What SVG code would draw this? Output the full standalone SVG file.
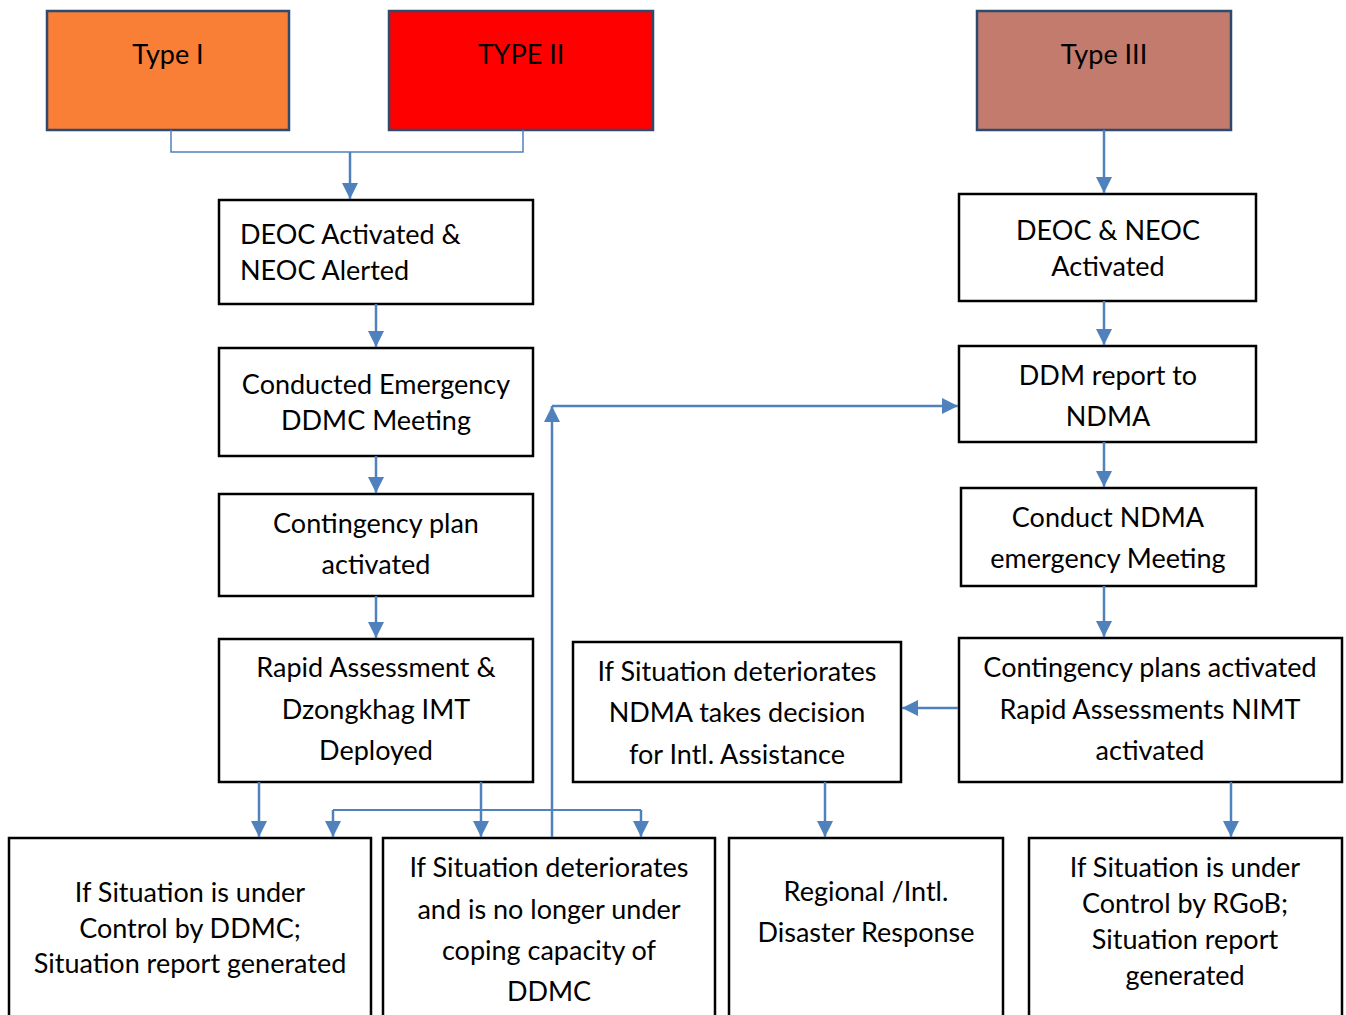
<svg xmlns="http://www.w3.org/2000/svg" width="1346" height="1015" viewBox="0 0 1346 1015">
<style>
.box{fill:#fff;stroke:#000;stroke-width:2.5}
.typ{stroke:#2E4A6E;stroke-width:2.5}
text{font-family:Lato,"Liberation Sans",sans-serif;font-size:27px;fill:#000}
.c{text-anchor:middle}
.con{fill:none;stroke:#4F81BD;stroke-width:2.5}
.thin{fill:none;stroke:#4F81BD;stroke-width:1.5}
</style>
<defs>
<marker id="ah" markerUnits="userSpaceOnUse" markerWidth="16" markerHeight="16" refX="14" refY="7" orient="auto" viewBox="0 0 14 14">
<path d="M0,0 L14,7 L0,14 z" fill="#4F81BD"/>
</marker>
</defs>
<g id="type1"><rect class="typ" x="47" y="11" width="242" height="119" fill="#F97E36"/><text class="c" x="168" y="64">Type I</text></g>
<g id="type2"><rect class="typ" x="389" y="11" width="264" height="119" fill="#FF0000"/><text class="c" x="521" y="64">TYPE II</text></g>
<g id="type3"><rect class="typ" x="977" y="11" width="254" height="119" fill="#C27B6C"/><text class="c" x="1104" y="64">Type III</text></g>
<g id="deoc1"><rect class="box" x="219" y="200" width="314" height="104"/><text x="240" y="244">DEOC Activated &amp;</text><text x="240" y="280">NEOC Alerted</text></g>
<g id="ddmc"><rect class="box" x="219" y="348" width="314" height="108"/><text class="c" x="376" y="394">Conducted Emergency</text><text class="c" x="376" y="430">DDMC Meeting</text></g>
<g id="cplan"><rect class="box" x="219" y="494" width="314" height="102"/><text class="c" x="376" y="533">Contingency plan</text><text class="c" x="376" y="574">activated</text></g>
<g id="rapid"><rect class="box" x="219" y="639" width="314" height="143"/><text class="c" x="376" y="677">Rapid Assessment &amp;</text><text class="c" x="376" y="719">Dzongkhag IMT</text><text class="c" x="376" y="760">Deployed</text></g>
<g id="deoc3"><rect class="box" x="959" y="194" width="297" height="107"/><text class="c" x="1108" y="240">DEOC &amp; NEOC</text><text class="c" x="1108" y="276">Activated</text></g>
<g id="ddm"><rect class="box" x="959" y="346" width="297" height="96"/><text class="c" x="1108" y="385">DDM report to</text><text class="c" x="1108" y="426">NDMA</text></g>
<g id="ndmameet"><rect class="box" x="961" y="488" width="295" height="98"/><text class="c" x="1108" y="527">Conduct NDMA</text><text class="c" x="1108" y="568">emergency Meeting</text></g>
<g id="cplans3"><rect class="box" x="959" y="638" width="383" height="144"/><text class="c" x="1150" y="677">Contingency plans activated</text><text class="c" x="1150" y="719">Rapid Assessments NIMT</text><text class="c" x="1150" y="760">activated</text></g>
<g id="ndmadec"><rect class="box" x="573" y="642" width="328" height="140"/><text class="c" x="737" y="681">If Situation deteriorates</text><text class="c" x="737" y="722">NDMA takes decision</text><text class="c" x="737" y="764">for Intl. Assistance</text></g>
<g id="ddmcctrl"><rect class="box" x="9" y="838" width="362" height="190"/><text class="c" x="190" y="902">If Situation is under</text><text class="c" x="190" y="938">Control by DDMC;</text><text class="c" x="190" y="973">Situation report generated</text></g>
<g id="deter"><rect class="box" x="383" y="838" width="332" height="190"/><text class="c" x="549" y="877">If Situation deteriorates</text><text class="c" x="549" y="919">and is no longer under</text><text class="c" x="549" y="960">coping capacity of</text><text class="c" x="549" y="1001">DDMC</text></g>
<g id="regional"><rect class="box" x="729" y="838" width="274" height="190"/><text class="c" x="866" y="901">Regional /Intl.</text><text class="c" x="866" y="942">Disaster Response</text></g>
<g id="rgob"><rect class="box" x="1029" y="838" width="313" height="190"/><text class="c" x="1185" y="877">If Situation is under</text><text class="c" x="1185" y="913">Control by RGoB;</text><text class="c" x="1185" y="949">Situation report</text><text class="c" x="1185" y="985">generated</text></g>
<g id="connectors">
<path class="thin" d="M171,130 V152 H523 V130"/>
<path class="con" d="M350,152 V199" marker-end="url(#ah)"/>
<path class="con" d="M376,304 V347" marker-end="url(#ah)"/>
<path class="con" d="M376,456 V493" marker-end="url(#ah)"/>
<path class="con" d="M376,596 V638" marker-end="url(#ah)"/>
<path class="con" d="M259,782 V837" marker-end="url(#ah)"/>
<path class="con" d="M481,782 V837" marker-end="url(#ah)"/>
<path class="thin" d="M333,810 H641" style="stroke-width:2"/>
<path class="con" d="M333,810 V837" marker-end="url(#ah)"/>
<path class="con" d="M641,810 V837" marker-end="url(#ah)"/>
<path class="con" d="M552,837 V406" marker-end="url(#ah)"/>
<path class="con" d="M552,406 H958" marker-end="url(#ah)"/>
<path class="con" d="M1104,130 V193" marker-end="url(#ah)"/>
<path class="con" d="M1104,301 V345" marker-end="url(#ah)"/>
<path class="con" d="M1104,442 V487" marker-end="url(#ah)"/>
<path class="con" d="M1104,586 V637" marker-end="url(#ah)"/>
<path class="con" d="M958,708 H902" marker-end="url(#ah)"/>
<path class="con" d="M825,782 V837" marker-end="url(#ah)"/>
<path class="con" d="M1231,782 V837" marker-end="url(#ah)"/>
</g>
</svg>
